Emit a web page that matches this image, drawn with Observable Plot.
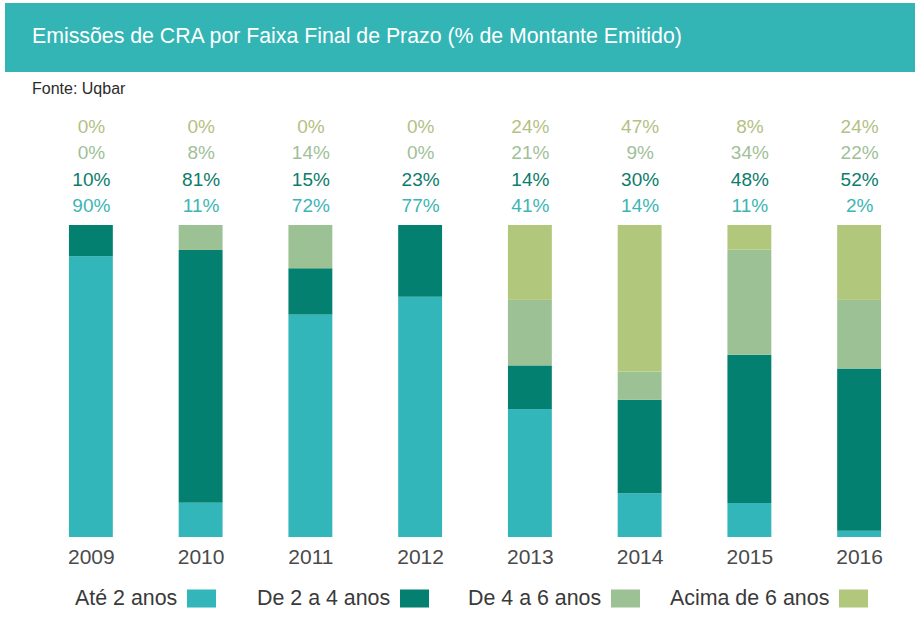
<!DOCTYPE html>
<html>
<head>
<meta charset="utf-8">
<script src="https://cdn.jsdelivr.net/npm/d3@7"></script>
<script src="https://cdn.jsdelivr.net/npm/@observablehq/plot@0.6"></script>
<style>
  html, body { margin: 0; padding: 0; background: #ffffff; }
  body { width: 915px; height: 621px; position: relative; overflow: hidden; font-family: "Liberation Sans", Arial, sans-serif; }
  #band { position: absolute; left: 5px; top: 3px; width: 910px; height: 69px; background: #33b5b6; }
  #title { position: absolute; left: 32px; top: 36px; transform: translateY(-50%); color: #ffffff; font-size: 21.3px; white-space: nowrap; }
  #source { position: absolute; left: 32px; top: 89px; transform: translateY(-50%); color: #2b2b2b; font-size: 16px; white-space: nowrap; }
  #chart { position: absolute; left: 0; top: 110px; }
  .leg { position: absolute; top: 598px; transform: translateY(-50%); display: flex; align-items: center; font-size: 21.4px; color: #3a3a3a; white-space: nowrap; }
  .sw { display: inline-block; width: 29px; height: 18px; margin-left: 10px; }
</style>
</head>
<body>
<div id="band"></div>
<div id="title">Emissões de CRA por Faixa Final de Prazo (% de Montante Emitido)</div>
<div id="source">Fonte: Uqbar</div>
<div id="chart"></div>
<div id="legend"></div>
<script>
const years = ["2009", "2010", "2011", "2012", "2013", "2014", "2015", "2016"];
const series = ["Até 2 anos", "De 2 a 4 anos", "De 4 a 6 anos", "Acima de 6 anos"];
const ate2 = [90, 11, 72, 77, 41, 14, 11, 2];
const de2a4 = [10, 81, 15, 23, 14, 30, 48, 52];
const de4a6 = [0, 8, 14, 0, 21, 9, 34, 22];
const acima6 = [0, 0, 0, 0, 24, 47, 8, 24];
const barColors = ["#33b6b9", "#03806f", "#9cc194", "#b1c87c"];
const labelColors = ["#3db5b5", "#0c7c6c", "#9fbf98", "#b3c184"];
const legendLeft = [75, 257, 468, 670];
const labelOffsets = [-19.5, -45.5, -72.5, -99];

const valuesBySeries = [ate2, de2a4, de4a6, acima6];
const rows = [];
series.forEach((s, k) => {
  years.forEach((y, i) => rows.push({year: y, series: s, k, value: valuesBySeries[k][i]}));
});

const marks = [
  Plot.barY(rows, Plot.stackY({offset: "normalize", x: "year", y: "value", fill: "series"})),
  Plot.axisX({tickSize: 0, tickPadding: 12, fontSize: 21, fill: "#4a4a4a"})
];
series.forEach((s, k) => {
  marks.push(Plot.text(rows.filter(d => d.k === k), {
    x: "year",
    text: d => d.value + "%",
    frameAnchor: "top",
    lineAnchor: "middle",
    dy: labelOffsets[k],
    fill: labelColors[k],
    fontSize: 19
  }));
});

const chart = Plot.plot({
  width: 915,
  height: 467,
  marginTop: 115,
  marginBottom: 40,
  marginLeft: 36,
  marginRight: 1,
  style: {fontFamily: "'Liberation Sans', Arial, sans-serif", background: "transparent"},
  x: {domain: years, paddingInner: 0.6, paddingOuter: 0.3, round: false, label: null},
  y: {axis: null, domain: [0, 1]},
  color: {domain: series, range: barColors},
  marks
});
document.getElementById("chart").appendChild(chart);

const legend = document.getElementById("legend");
series.forEach((s, k) => {
  const item = document.createElement("div");
  item.className = "leg";
  item.style.left = legendLeft[k] + "px";
  const t = document.createElement("span");
  t.textContent = s;
  const sw = document.createElement("span");
  sw.className = "sw";
  sw.style.background = barColors[k];
  item.appendChild(t);
  item.appendChild(sw);
  legend.appendChild(item);
});
</script>
</body>
</html>
